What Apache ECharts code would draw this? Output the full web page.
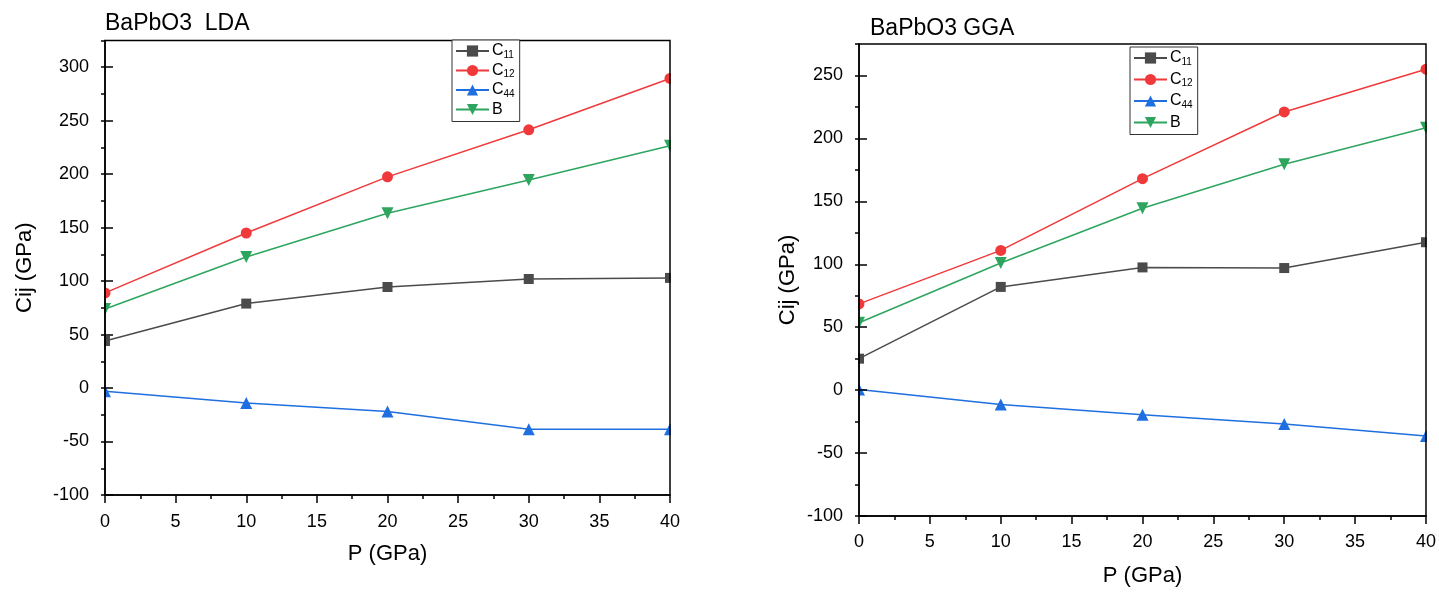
<!DOCTYPE html>
<html>
<head>
<meta charset="utf-8">
<title>BaPbO3 elastic constants vs pressure</title>
<script src="https://cdn.jsdelivr.net/npm/echarts@6/dist/echarts.min.js"></script>
<style>
  html, body { margin: 0; padding: 0; background: #fff; }
  #chart { width: 1439px; height: 592px; }
</style>
</head>
<body>
<div id="chart"></div>
<script>
// Pressure points (GPa)
const pressure = [0, 10, 20, 30, 40];

// LDA elastic constants (GPa)
const ldaC11 = [44, 79, 94.5, 102, 103];
const ldaC12 = [89, 145, 197.5, 241.5, 289.5];
const ldaC44 = [-3, -14, -22, -38.5, -38.5];
const ldaB   = [74, 122.5, 163.5, 194.5, 226.5];

// GGA elastic constants (GPa)
const ggaC11 = [25, 82, 97.5, 97, 117.5];
const ggaC12 = [68.5, 111, 168, 221, 255];
const ggaC44 = [0.5, -11.5, -19.5, -27, -36.5];
const ggaB   = [53.5, 101, 144.5, 179.5, 208.5];

// Axis ranges and labelled tick values
const xTicks = [0, 5, 10, 15, 20, 25, 30, 35, 40];
const ldaYRange = [-100, 325];
const ggaYRange = [-100, 275];
const ldaYTicks = [-100, -50, 0, 50, 100, 150, 200, 250, 300];
const ggaYTicks = [-100, -50, 0, 50, 100, 150, 200, 250];

const seriesNames = ['C11', 'C12', 'C44', 'B'];

const FONT = 'Liberation Sans, Arial, Helvetica, sans-serif';
const colors = { C11: '#4b4b4b', C12: '#f0393b', C44: '#1f6fe0', B: '#2ea55f' };
const symbols = {
  C11: 'rect',
  C12: 'circle',
  C44: 'triangle',
  B: 'path://M0,0 L10,0 L5,9 Z'
};
const symbolSizes = { C11: 10, C12: 11, C44: 12, B: 12 };

// Plot frames
const grids = [
  { left: 105, top: 40.5, width: 565, height: 454.5 },
  { left: 859, top: 44, width: 567, height: 474.5 }
];

const chart = echarts.init(document.getElementById('chart'), null, { renderer: 'canvas' });

function pairs(ys) { return pressure.map((p, i) => [p, ys[i]]); }

function makeSeries(name, ys, gi) {
  return {
    name: name,
    type: 'line',
    xAxisIndex: gi,
    yAxisIndex: gi * 2,
    data: pairs(ys),
    symbol: symbols[name],
    symbolSize: symbolSizes[name],
    showAllSymbol: true,
    clip: true,
    z: 2,
    lineStyle: { color: colors[name], width: 1.5 },
    itemStyle: { color: colors[name] },
    emphasis: { disabled: true }
  };
}

function xAxisFor(gi, gap, margin) {
  return {
    type: 'value', gridIndex: gi, min: 0, max: 40, interval: 5,
    name: 'P (GPa)', nameLocation: 'middle', nameGap: gap,
    nameTextStyle: { fontFamily: FONT, fontSize: 22, color: '#000' },
    axisLine: { onZero: false, lineStyle: { color: '#000', width: 1.5 } },
    axisTick: { length: 8, lineStyle: { color: '#000', width: 1.5 } },
    minorTick: { show: true, splitNumber: 2, length: 4, lineStyle: { color: '#000', width: 1.5 } },
    axisLabel: { fontFamily: FONT, fontSize: 18, color: '#000', margin: margin,
                 customValues: xTicks },
    splitLine: { show: false },
    z: 10
  };
}

function yAxesFor(gi, range, ticks, gap) {
  return [
    {
      type: 'value', gridIndex: gi, min: range[0], max: range[1], interval: 25,
      name: 'Cij (GPa)', nameLocation: 'middle', nameGap: gap,
      nameTextStyle: { fontFamily: FONT, fontSize: 22, color: '#000' },
      axisLine: { onZero: false, lineStyle: { color: '#000', width: 1.5 } },
      axisTick: { length: 4, lineStyle: { color: '#000', width: 1.5 } },
      axisLabel: { fontFamily: FONT, fontSize: 18, color: '#000', margin: 16,
                   customValues: ticks },
      splitLine: { show: false },
      z: 10
    },
    {
      type: 'value', gridIndex: gi, min: range[0], max: range[1], interval: 25,
      axisLine: { show: false },
      axisTick: { length: 8, customValues: ticks, lineStyle: { color: '#000', width: 1.5 } },
      axisLabel: { show: false },
      splitLine: { show: false },
      z: 10
    }
  ];
}

function legendFor(left, top, gap) {
  return {
    data: seriesNames,
    orient: 'vertical',
    left: left, top: top,
    itemWidth: 33, itemHeight: 14, itemGap: gap,
    padding: [3, 5, 4, 3],
    backgroundColor: '#fff',
    borderColor: '#333', borderWidth: 1, borderRadius: 0,
    selectedMode: false,
    z: 12,
    formatter: function (name) {
      return name === 'B' ? '{m|B}' : '{m|C}{s|' + name.slice(1) + '}';
    },
    textStyle: {
      fontFamily: FONT, color: '#000', padding: [0, 0, 0, -2],
      rich: {
        m: { fontFamily: FONT, fontSize: 16, lineHeight: 18, color: '#000' },
        s: { fontFamily: FONT, fontSize: 10, lineHeight: 8, verticalAlign: 'bottom', color: '#000' }
      }
    }
  };
}

// White strips just outside the left/right frame edges so edge markers are cut at the frame
function edgeMasks(g) {
  return [
    { type: 'rect', silent: true, z: 8, zlevel: 0,
      shape: { x: g.left - 8, y: g.top - 1, width: 7.25, height: g.height + 2 },
      style: { fill: '#fff' } },
    { type: 'rect', silent: true, z: 8, zlevel: 0,
      shape: { x: g.left + g.width + 0.75, y: g.top - 1, width: 8, height: g.height + 2 },
      style: { fill: '#fff' } }
  ];
}

const option = {
  backgroundColor: '#fff',
  animation: false,
  title: [
    { text: 'BaPbO3  LDA', left: 105, top: 12, padding: 0,
      textStyle: { fontFamily: FONT, fontSize: 23, fontWeight: 'normal', color: '#000' } },
    { text: 'BaPbO3 GGA', left: 870, top: 17, padding: 0,
      textStyle: { fontFamily: FONT, fontSize: 23, fontWeight: 'normal', color: '#000' } }
  ],
  legend: [legendFor(452, 40, 2.5), legendFor(1130, 47, 4.5)],
  grid: grids.map(g => Object.assign({
    show: true, borderColor: '#000', borderWidth: 1.5,
    backgroundColor: 'rgba(0,0,0,0)', z: 10, containLabel: false
  }, g)),
  xAxis: [xAxisFor(0, 48, 18), xAxisFor(1, 49, 17)],
  yAxis: [].concat(
    yAxesFor(0, ldaYRange, ldaYTicks, 69),
    yAxesFor(1, ggaYRange, ggaYTicks, 60)
  ),
  graphic: {
    z: 8,
    elements: [].concat(edgeMasks(grids[0]), edgeMasks(grids[1]))
  },
  series: [
    makeSeries('C11', ldaC11, 0),
    makeSeries('C12', ldaC12, 0),
    makeSeries('C44', ldaC44, 0),
    makeSeries('B', ldaB, 0),
    makeSeries('C11', ggaC11, 1),
    makeSeries('C12', ggaC12, 1),
    makeSeries('C44', ggaC44, 1),
    makeSeries('B', ggaB, 1)
  ]
};

chart.setOption(option);
</script>
</body>
</html>
